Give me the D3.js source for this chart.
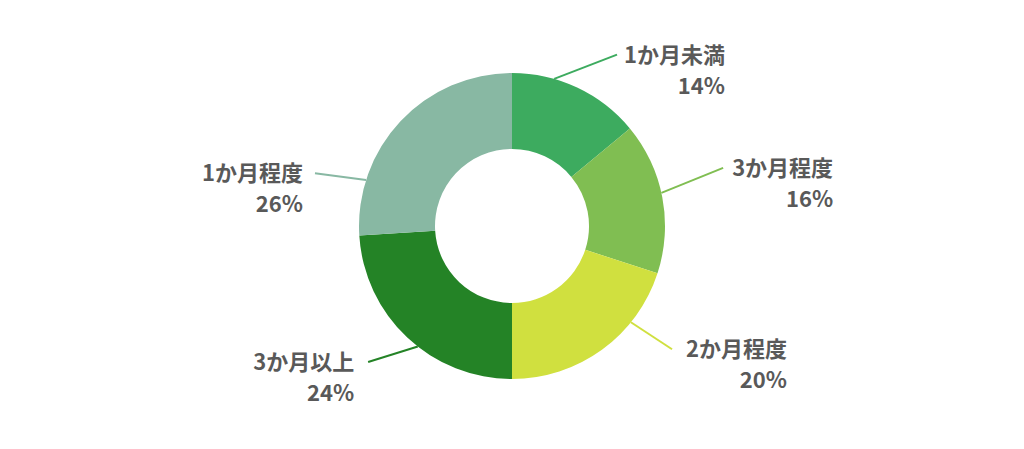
<!DOCTYPE html>
<html>
<head>
<meta charset="utf-8">
<script src="https://cdn.jsdelivr.net/npm/d3@7"></script>
<style>
  html, body { margin: 0; padding: 0; background: #fff; }
  svg text { font-family: "Noto Sans CJK JP", "Noto Sans", sans-serif; font-weight: 700; fill: #595959; }
</style>
</head>
<body>
<svg id="chart" width="1024" height="449"></svg>
<script>
// data, clockwise from 12 o'clock
const categories = ["1か月未満", "3か月程度", "2か月程度", "3か月以上", "1か月程度"];
const shares = [14, 16, 20, 24, 26];
const colours = ["#3dab5f", "#80be52", "#d0e03f", "#248326", "#88b8a3"];

// leader lines: start angle on the rim, end angle and radius (degrees from top)
const leaderFrom = [16, 77.5, 129, 218, 287.5];
const leaderTo = [31.5, 74.6, 127.6, 226.6, 285];
const leaderLen = [201, 219, 202, 198, 204];
const labelGap = [7, 9, 14, 14, 12];

const width = 1024, height = 449;
const cx = 512, cy = 226, outerR = 153, innerR = 77;
const fontSize = 22, lineGap = 31;

const svg = d3.select("#chart");
const g = svg.append("g").attr("transform", `translate(${cx},${cy})`);

const pie = d3.pie().sort(null).value(d => d.value);
const arc = d3.arc().innerRadius(innerR).outerRadius(outerR);

const slices = pie(categories.map((c, i) => ({ name: c, value: shares[i], colour: colours[i] })));

g.selectAll("path.slice")
  .data(slices)
  .enter()
  .append("path")
  .attr("class", "slice")
  .attr("d", arc)
  .attr("fill", d => d.data.colour);

const rad = a => a * Math.PI / 180;
const polar = (r, a) => [r * Math.sin(rad(a)), -r * Math.cos(rad(a))];

slices.forEach((d, i) => {
  const p0 = polar(outerR, leaderFrom[i]);
  const p1 = polar(leaderLen[i], leaderTo[i]);
  const right = p1[0] > 0;

  g.append("line")
    .attr("x1", p0[0]).attr("y1", p0[1])
    .attr("x2", p1[0]).attr("y2", p1[1])
    .attr("stroke", d.data.colour)
    .attr("stroke-width", 2);

  const label = g.append("g");
  const t1 = label.append("text")
    .attr("font-size", fontSize)
    .attr("text-anchor", "end")
    .attr("y", p1[1] + 8)
    .text(d.data.name);
  const w = t1.node().getComputedTextLength();
  const xEnd = right ? p1[0] + labelGap[i] + w : p1[0] - labelGap[i];
  t1.attr("x", xEnd);

  label.append("text")
    .attr("font-size", fontSize)
    .attr("text-anchor", "end")
    .attr("x", xEnd)
    .attr("y", p1[1] + 8 + lineGap)
    .text(d.data.value + "%");
});
</script>
</body>
</html>
